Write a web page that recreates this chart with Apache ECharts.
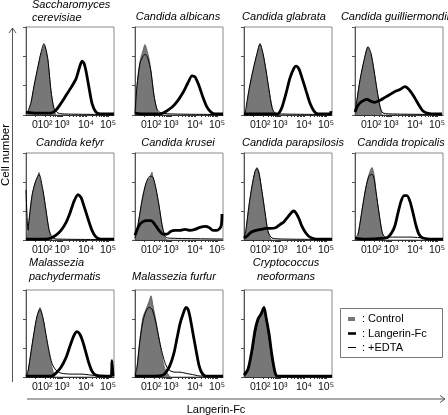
<!DOCTYPE html>
<html>
<head>
<meta charset="utf-8">
<script src="https://cdn.jsdelivr.net/npm/echarts@6/dist/echarts.min.js"></script>
<style>
html,body{margin:0;padding:0;background:#fff;}
#chart{width:448px;height:415px;}
</style>
</head>
<body>
<div id="chart"></div>
<script>
// ---- tick labels (x axis in display units across a panel, 0..88) ----
const xTickValues = [9, 19, 36, 60, 82];
const xTickLabels = ['0', '10²', '10³', '10⁴', '10⁵'];
const legendNames = ['Control', 'Langerin-Fc', '+EDTA'];
const axisNames = ['Cell number', 'Langerin-Fc'];

// ---- histogram data: [channel, count] ----
const saccCtrl = [[2,0],[5,12],[8,28],[12,48],[15,62],[17,68],[18,71],[20,66],[22,55],[25,24],[28,5],[30,0]];
const saccEdta = [[1,1],[5,13],[8,30],[12,50],[15,64],[18,73],[20,67],[22,56],[25,25],[28,7],[32,2],[40,1],[88,0.5]];
const saccLfc  = [[0,3],[10,2],[20,2],[25,2],[30,5],[35,12],[40,20],[45,28],[50,37],[53,47],[56,55],[58,53],[60,45],[63,28],[66,12],[70,3],[75,1],[88,1]];

const albCtrl = [[0,0],[1,10],[2,30],[5,55],[8,66],[10,72],[12,66],[14,58],[16,45],[19,20],[22,5],[24,0]];
const albEdta = [[0,2],[2,30],[5,53],[8,60],[10,62],[12,60],[14,54],[16,44],[19,20],[22,6],[26,2],[40,1],[88,0.5]];
const albLfc  = [[0,2],[10,1],[25,1],[28,2],[33,5],[38,9],[43,15],[48,23],[53,33],[57,40],[60,39],[64,30],[68,18],[72,8],[76,3],[80,1],[88,1]];

const glabCtrl = [[2,0],[5,25],[9,45],[13,62],[16,72],[19,62],[22,45],[25,25],[28,8],[30,0]];
const glabEdta = [[1,1],[5,26],[9,46],[13,63],[16,73],[19,63],[22,46],[25,26],[28,8],[31,2],[40,1],[88,0.5]];
const glabLfc  = [[0,1],[20,1],[33,1],[35,2],[38,8],[42,22],[46,38],[50,48],[52,50],[55,47],[58,38],[62,25],[66,12],[70,4],[74,1],[86,1],[87,4]];

const guilCtrl = [[1,0],[2,15],[5,35],[9,55],[13,69],[16,62],[19,45],[22,25],[25,8],[27,0]];
const guilEdta = [[0,4],[2,16],[5,36],[9,56],[13,70],[16,63],[19,46],[22,26],[25,9],[28,2],[40,1],[87,0.5]];
const guilLfc  = [[0,3],[3,10],[7,14],[12,16],[16,14],[20,13],[25,15],[30,18],[35,21],[40,24],[45,26],[50,29],[53,27],[57,22],[60,17],[64,10],[68,4],[72,2],[80,1],[87,1]];

const kefCtrl = [[1,0],[3,20],[6,45],[9,58],[12,66],[13,70],[14,63],[17,50],[20,30],[23,10],[25,2],[26,0]];
const kefEdta = [[0,52],[2,10],[3,20],[6,46],[9,59],[13,68],[17,51],[20,31],[23,11],[26,3],[30,1],[88,0.5]];
const kefLfc  = [[0,1],[20,1],[25,2],[30,5],[35,10],[40,18],[44,28],[48,40],[52,47],[55,44],[58,35],[62,22],[66,10],[70,3],[75,1],[88,1]];

const kruCtrl = [[1,0],[3,15],[7,40],[11,58],[15,65],[17,70],[18,64],[21,52],[24,35],[27,15],[30,3],[32,0]];
const kruEdta = [[0,2],[3,16],[7,41],[11,59],[15,66],[18,65],[21,53],[24,36],[27,16],[30,4],[33,2],[88,1]];
const kruLfc  = [[0,5],[4,15],[8,19],[12,20],[16,20],[20,16],[24,10],[28,6],[32,6],[36,9],[40,10],[45,10],[50,11],[55,10],[60,11],[65,13],[70,14],[74,13],[78,10],[82,10],[86,14],[87,27]];

const parCtrl = [[1,0],[2,10],[5,35],[8,55],[11,70],[13,75],[15,70],[18,50],[21,28],[24,8],[27,0]];
const parEdta = [[0,2],[2,11],[5,36],[8,56],[11,71],[13,74],[15,69],[18,50],[21,29],[24,9],[28,2],[40,1],[88,0.5]];
const parLfc  = [[0,2],[3,4],[7,8],[12,10],[17,11],[22,12],[27,12],[32,13],[36,16],[40,19],[44,24],[48,29],[50,30],[52,28],[55,22],[58,14],[62,7],[66,3],[72,1],[88,1]];

const troCtrl = [[2,0],[3,5],[7,30],[11,55],[14,68],[17,75],[19,68],[21,50],[24,28],[27,8],[29,0]];
const troEdta = [[0,2],[3,6],[7,31],[11,55],[14,66],[17,68],[19,64],[21,50],[24,28],[27,9],[30,3],[40,3],[55,3],[70,2],[80,1],[88,1]];
const troLfc  = [[0,2],[10,1],[30,2],[33,3],[37,8],[40,15],[43,28],[46,40],[49,46],[52,46],[55,40],[58,28],[61,15],[64,6],[68,2],[75,1],[88,1]];

const pacCtrl = [[1,0],[2,5],[5,25],[8,45],[11,62],[14,72],[17,60],[20,42],[23,25],[26,10],[28,2],[29,0]];
const pacEdta = [[0,1],[2,6],[5,26],[8,46],[11,63],[14,70],[17,61],[20,44],[23,27],[26,14],[30,7],[35,4],[45,3],[55,3],[65,2],[75,1],[88,1]];
const pacLfc  = [[0,1],[25,1],[30,4],[35,10],[40,20],[44,32],[48,43],[51,47],[54,44],[57,36],[60,25],[63,14],[66,6],[70,2],[80,1],[85,1],[86,17],[87,1]];

const furCtrl = [[1,0],[2,10],[5,40],[8,62],[11,70],[14,78],[16,84],[18,74],[21,58],[24,40],[27,22],[30,8],[33,3],[35,0]];
const furEdta = [[0,2],[2,10],[5,38],[8,58],[11,68],[14,72],[17,70],[20,60],[23,45],[26,30],[29,18],[32,10],[36,6],[40,5],[45,5],[50,4],[55,3],[60,2],[65,1],[88,1]];
const furLfc  = [[0,1],[20,1],[28,2],[31,5],[35,12],[39,25],[42,40],[45,55],[48,65],[51,72],[53,70],[55,62],[58,45],[61,28],[64,12],[67,4],[71,1],[88,1]];

const cryCtrl = [[1,0],[2,3],[5,10],[9,30],[12,48],[15,60],[18,66],[20,68],[22,60],[25,40],[28,18],[30,5],[32,0]];
const cryEdta = [[0,1],[2,3],[5,11],[9,31],[12,49],[15,61],[18,67],[20,69],[22,61],[25,41],[28,19],[31,4],[34,1],[88,0.5]];
const cryLfc  = [[0,2],[4,8],[8,28],[11,48],[14,60],[17,65],[20,72],[22,62],[25,45],[28,22],[31,5],[33,1],[40,1],[88,1]];

const panelTitles = [
  ['Saccharomyces', 'cerevisiae'], ['Candida albicans'], ['Candida glabrata'], ['Candida guilliermondii'],
  ['Candida kefyr'], ['Candida krusei'], ['Candida parapsilosis'], ['Candida tropicalis'],
  ['Malassezia', 'pachydermatis'], ['Malassezia furfur'], ['Cryptococcus', 'neoformans']
];
const panelData = [
  [saccCtrl, saccEdta, saccLfc], [albCtrl, albEdta, albLfc], [glabCtrl, glabEdta, glabLfc], [guilCtrl, guilEdta, guilLfc],
  [kefCtrl, kefEdta, kefLfc], [kruCtrl, kruEdta, kruLfc], [parCtrl, parEdta, parLfc], [troCtrl, troEdta, troLfc],
  [pacCtrl, pacEdta, pacLfc], [furCtrl, furEdta, furLfc], [cryCtrl, cryEdta, cryLfc]
];

// ---- layout ----
const colLeft = [26, 135, 244, 355];
const rowTop = [27, 153, 290];
const rowH = [88, 87, 87];
const PW = 88;
const FONT = '"Liberation Sans", Arial, sans-serif';
const N = panelData.length;

// minor ticks (log-style) within each decade
const minorTicks = [];
const decades = [[19, 36], [36, 60], [60, 82]];
decades.forEach(([a, b]) => {
  for (let k = 1; k <= 9; k++) minorTicks.push(a + Math.log10(k) * (b - a));
});
minorTicks.push(9, 82);

const labelFmt = v => { const j = xTickValues.indexOf(v); return j >= 0 ? xTickLabels[j] : ''; };
const labelStyle = { fontSize: 10.5, color: '#111', fontFamily: FONT, margin: 5, hideOverlap: false, formatter: labelFmt };

const grids = [], xAxes = [], extraX = [], yAxes = [], series = [], graphics = [];

panelData.forEach((d, i) => {
  const r = Math.floor(i / 4), c = i % 4;
  grids.push({
    left: colLeft[c], top: rowTop[r], width: PW, height: rowH[r],
    show: true, borderColor: '#8a8a8a', borderWidth: 1, backgroundColor: '#fff',
    containLabel: false, outerBoundsMode: 'none'
  });
  // main axis: decade labels 10²..10⁵
  xAxes.push({
    type: 'value', gridIndex: i, min: 0, max: 88, position: 'bottom',
    axisLine: { show: true, lineStyle: { color: '#333', width: 1 } },
    splitLine: { show: false },
    axisTick: { show: true, length: 2, inside: false, lineStyle: { color: '#333' }, customValues: minorTicks },
    axisLabel: Object.assign({ show: true, customValues: xTickValues.slice(1) }, labelStyle)
  });
  // companion axis on the same line carrying the "0" label (avoids overlap culling)
  extraX.push({
    type: 'value', gridIndex: i, min: 0, max: 88, position: 'bottom',
    axisLine: { show: false }, splitLine: { show: false }, axisTick: { show: false },
    axisLabel: Object.assign({ show: true, customValues: [xTickValues[0]] }, labelStyle)
  });
  yAxes.push({
    type: 'value', gridIndex: i, min: 0, max: 90, interval: 30,
    axisLine: { show: true, lineStyle: { color: '#555', width: 1 } },
    splitLine: { show: false },
    axisTick: { show: true, length: 3, inside: false, lineStyle: { color: '#555' } },
    axisLabel: { show: false }
  });
  series.push({
    name: legendNames[0], type: 'line', xAxisIndex: i, yAxisIndex: i, data: d[0],
    symbol: 'none', smooth: 0.25, z: 2,
    lineStyle: { color: '#555', width: 0.8 },
    areaStyle: { color: '#777', opacity: 1 }
  });
  series.push({
    name: legendNames[2], type: 'line', xAxisIndex: i, yAxisIndex: i, data: d[1],
    symbol: 'none', smooth: 0.25, z: 3,
    lineStyle: { color: '#000', width: 1 }
  });
  series.push({
    name: legendNames[1], type: 'line', xAxisIndex: i, yAxisIndex: i, data: d[2],
    symbol: 'none', smooth: 0.25, z: 4,
    lineStyle: { color: '#000', width: 2.8 }
  });
});

// panel titles
const titleStyle = { fontSize: 11, fontStyle: 'italic', fontFamily: FONT, fill: '#000' };
const titlePos = [
  { x: 32, y: [5, 18], align: 'left' },
  { x: 178, y: [17], align: 'center' },
  { x: 284, y: [17], align: 'center' },
  { x: 395, y: [17], align: 'center' },
  { x: 70, y: [143], align: 'center' },
  { x: 178, y: [143], align: 'center' },
  { x: 293, y: [143], align: 'center' },
  { x: 401, y: [143], align: 'center' },
  { x: 29, y: [263, 277], align: 'left' },
  { x: 174, y: [277], align: 'center' },
  { x: 286, y: [263, 277], align: 'center' }
];
panelTitles.forEach((lines, i) => {
  lines.forEach((t, k) => {
    graphics.push({
      type: 'text', x: titlePos[i].x, y: titlePos[i].y[k], silent: true,
      style: Object.assign({ text: t, textAlign: titlePos[i].align, textVerticalAlign: 'middle' }, titleStyle)
    });
  });
});

// axis arrows and names
const arrowColor = '#555';
graphics.push(
  { type: 'line', shape: { x1: 12.5, y1: 382, x2: 12.5, y2: 28 }, style: { stroke: arrowColor, lineWidth: 1 } },
  { type: 'polyline', shape: { points: [[9, 33], [12.5, 28], [16, 33]] }, style: { stroke: arrowColor, lineWidth: 1, fill: null } },
  { type: 'line', shape: { x1: 27, y1: 399, x2: 445, y2: 399 }, style: { stroke: arrowColor, lineWidth: 1 } },
  { type: 'polyline', shape: { points: [[440, 395.5], [445, 399], [440, 402.5]] }, style: { stroke: arrowColor, lineWidth: 1, fill: null } },
  { type: 'text', x: 216, y: 410, style: { text: axisNames[1], textAlign: 'center', textVerticalAlign: 'middle', fontSize: 11, fontFamily: FONT, fill: '#000' } },
  { type: 'text', x: 6, y: 155, rotation: Math.PI / 2, style: { text: axisNames[0], textAlign: 'center', textVerticalAlign: 'middle', fontSize: 11.5, fontFamily: FONT, fill: '#000' } }
);

// legend box
graphics.push(
  { type: 'rect', shape: { x: 340.5, y: 308.5, width: 102, height: 49 }, style: { fill: '#fff', stroke: '#777', lineWidth: 1 } },
  { type: 'rect', shape: { x: 348, y: 317, width: 7, height: 4 }, style: { fill: '#777' } },
  { type: 'line', shape: { x1: 348, y1: 333.5, x2: 356, y2: 333.5 }, style: { stroke: '#000', lineWidth: 2.6 } },
  { type: 'line', shape: { x1: 348, y1: 347.5, x2: 356, y2: 347.5 }, style: { stroke: '#000', lineWidth: 1 } }
);
[[319, legendNames[0]], [333.5, legendNames[1]], [347.5, legendNames[2]]].forEach(([y, t]) => {
  graphics.push({ type: 'text', x: 362, y: y, style: { text: ': ' + t, textVerticalAlign: 'middle', fontSize: 11, fontFamily: FONT, fill: '#000' } });
});

const chart = echarts.init(document.getElementById('chart'), null, { renderer: 'canvas' });
chart.setOption({
  animation: false,
  backgroundColor: '#fff',
  grid: grids,
  xAxis: xAxes.concat(extraX),
  yAxis: yAxes,
  series: series,
  graphic: graphics
});
</script>
</body>
</html>
